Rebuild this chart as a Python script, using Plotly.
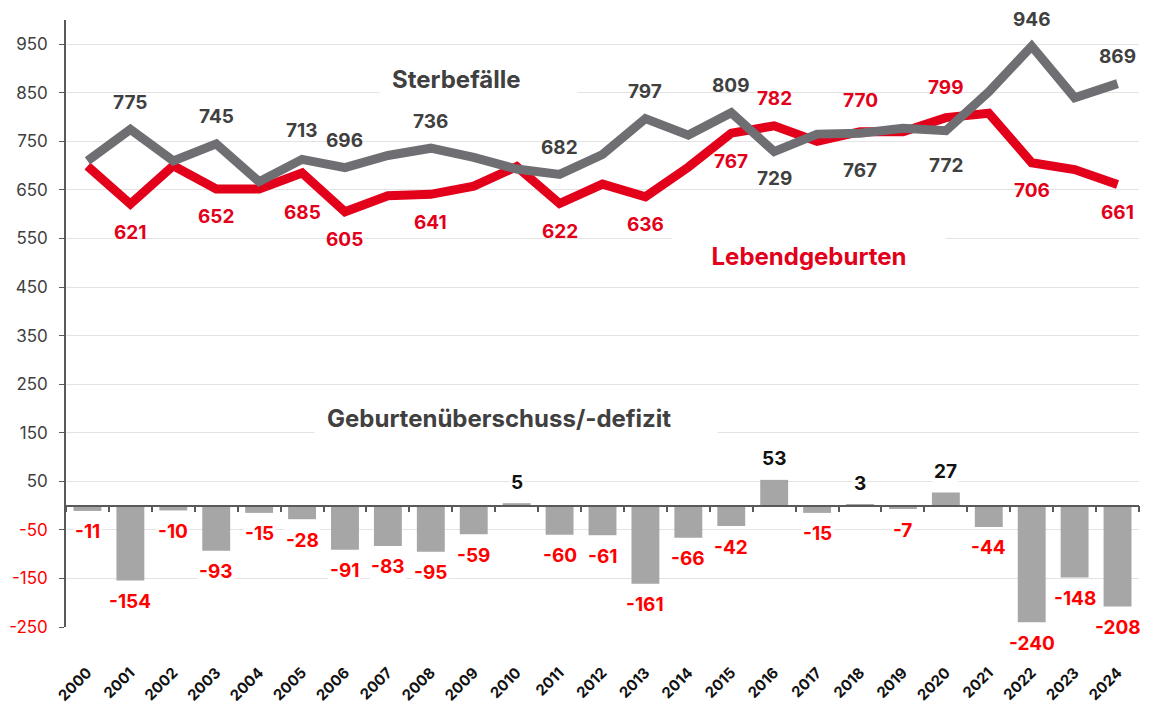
import plotly.graph_objects as go

years = [str(y) for y in range(2000, 2025)]
births = [699, 621, 700, 652, 652, 685, 605, 638, 641, 658, 698, 622, 662,
          636, 697, 767, 782, 750, 770, 770, 799, 808, 706, 692, 661]
deaths = [710, 775, 710, 745, 667, 713, 696, 721, 736, 717, 693, 682, 723,
          797, 763, 809, 729, 765, 767, 777, 772, 852, 946, 840, 869]
balance = [-11, -154, -10, -93, -15, -28, -91, -83, -95, -59, 5, -60, -61,
           -161, -66, -42, 53, -15, 3, -7, 27, -44, -240, -148, -208]
labeled_years = ["2001", "2003", "2005", "2006", "2008", "2011", "2013",
                 "2015", "2016", "2018", "2020", "2022", "2024"]
y_ticks = [-250, -150, -50, 50, 150, 250, 350, 450, 550, 650, 750, 850, 950]

RED_LINE = "#e2001a"
GRAY_LINE = "#6f6f73"
TEXT_GRAY = "#404040"
BAR_RED = "#ff0000"
FONT = "Inter"

# extra pixel nudges for a few value labels (styling only)
NUDGE = {("b", "2005"): -12, ("d", "2018"): -10, ("d", "2020"): -8,
         ("b", "2018"): 4, ("b", "2020"): 3, ("d", "2005"): 2}

fig = go.Figure()

fig.add_trace(go.Bar(x=years, y=balance, xaxis="x2", yaxis="y",
                     marker=dict(color="#a6a6a6", line=dict(width=0)),
                     width=0.65, hoverinfo="skip", showlegend=False))
fig.add_trace(go.Scatter(x=years, y=births, mode="lines",
                         line=dict(color=RED_LINE, width=9),
                         showlegend=False, hoverinfo="skip"))
fig.add_trace(go.Scatter(x=years, y=deaths, mode="lines",
                         line=dict(color=GRAY_LINE, width=9),
                         showlegend=False, hoverinfo="skip"))

annotations = []
for i, (yr, b, d) in enumerate(zip(years, births, deaths)):
    if yr not in labeled_years:
        continue
    d_above = d > b
    annotations.append(dict(x=i, y=d, xref="x", yref="y", text=str(d),
                            showarrow=False,
                            yshift=(27 if d_above else -27) + NUDGE.get(("d", yr), 0),
                            font=dict(family=FONT, size=19, color=TEXT_GRAY, weight="bold")))
    annotations.append(dict(x=i, y=b, xref="x", yref="y", text=str(b),
                            showarrow=False,
                            yshift=(-28 if d_above else 27) + NUDGE.get(("b", yr), 0),
                            font=dict(family=FONT, size=19, color=RED_LINE, weight="bold")))

for i, v in enumerate(balance):
    annotations.append(dict(x=i, y=v, xref="x", yref="y", text=str(v),
                            showarrow=False, yshift=21 if v > 0 else -21,
                            bgcolor="white",
                            font=dict(family=FONT, size=19,
                                      color="#111111" if v > 0 else BAR_RED,
                                      weight="bold")))

L, R, T, B, W, H = 66, 12, 20, 77, 1151, 704
pw, ph = W - L - R, H - T - B


def px_to_paper(x, y):
    return (x - L) / pw, 1 - (y - T) / ph


# text, box centre x, centre y, colour, padding, inner width, alignment
titles = [("Sterbefälle", 478, 80, TEXT_GRAY, 12, 173, "left"),
          ("Lebendgeburten", 809, 256, RED_LINE, 8, 256, "center"),
          ("Geburtenüberschuss/-defizit", 516, 418, TEXT_GRAY, 12, 378, "left")]
for txt, px, py, col, pad, wid, al in titles:
    ax_, ay_ = px_to_paper(px, py)
    annotations.append(dict(x=ax_, y=ay_, xref="paper", yref="paper", text=txt,
                            xanchor="center", yanchor="middle", width=wid, align=al,
                            showarrow=False, bgcolor="white", borderpad=pad,
                            font=dict(family=FONT, size=24, color=col, weight="bold")))

tick_text = [f"<span style='color:{BAR_RED}'>{t}</span>" if t < 0 else str(t)
             for t in y_ticks]

fig.update_layout(
    width=W, height=H, autosize=False,
    margin=dict(l=L, r=R, t=T, b=B, autoexpand=False),
    plot_bgcolor="white", paper_bgcolor="white",
    font=dict(family=FONT, color=TEXT_GRAY),
    xaxis=dict(type="category", categoryorder="array", categoryarray=years,
               range=[-0.5, 24.5], showgrid=False, showline=False, ticks="",
               tickangle=-45, ticklabelstandoff=33, automargin=False,
               tickfont=dict(family=FONT, size=15, color="#111111", weight="bold")),
    xaxis2=dict(type="category", categoryorder="array", categoryarray=years,
                range=[-0.5, 24.5], overlaying="x", anchor="free", position=0.2,
                showgrid=False, showline=True, linecolor="#595959", linewidth=1.5,
                ticks="outside", tickson="boundaries", ticklen=6, tickcolor="#595959",
                tickwidth=1.5, showticklabels=False, automargin=False),
    yaxis=dict(range=[-250, 1000], tickmode="array", tickvals=y_ticks, ticktext=tick_text,
               showgrid=True, gridcolor="#e3e3e3", gridwidth=1, zeroline=False,
               showline=True, linecolor="#595959", linewidth=1.5,
               ticks="outside", ticklen=5, tickcolor="#595959",
               ticklabelstandoff=8, automargin=False,
               tickfont=dict(family=FONT, size=17, color=TEXT_GRAY)),
    annotations=annotations,
)

fig.write_html("out.html", config={"displayModeBar": False},
               post_script="document.body.style.margin='0';")
